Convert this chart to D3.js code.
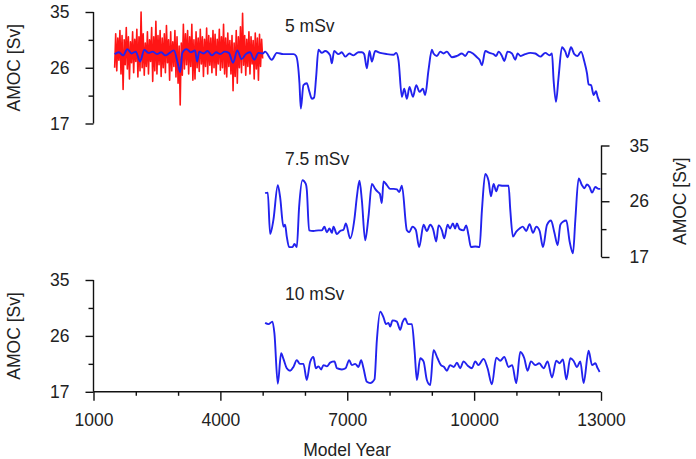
<!DOCTYPE html>
<html><head><meta charset="utf-8">
<script src="https://cdn.jsdelivr.net/npm/d3@7"></script>
<style>body{margin:0;background:#fff}svg{display:block}text{font-family:"Liberation Sans",Arial,sans-serif;fill:#222}</style>
</head><body><svg id="c" width="696" height="459"></svg>
<script>
const xTicks = [1000, 4000, 7000, 10000, 13000];
const xMinorTicks = [2000, 3000, 5000, 6000, 8000, 9000, 11000, 12000];
const yTicks = [17, 26, 35];
const yMinorTicks = [21.5, 30.5];
const panelLabels = ["5 mSv", "7.5 mSv", "10 mSv"];
const yLabel = "AMOC [Sv]";
const xLabel = "Model Year";

// 5 mSv: noisy annual-ish series (red), sampled start year + step
const redStart = 1500, redStep = 25;
const red5 = [26.0,31.5,25.5,30.8,27.2,32.0,25.0,31.2,22.5,30.5,
26.5,32.5,25.8,31.0,24.2,30.2,26.8,31.8,25.2,30.6,
27.0,32.2,24.5,31.0,25.5,35.0,26.0,31.5,24.8,30.0,
26.2,31.8,25.0,30.5,27.0,32.5,23.8,31.0,25.5,33.5,
25.0,31.2,26.5,32.0,24.6,30.8,26.0,31.5,25.2,32.8,
26.8,30.5,24.0,31.8,25.5,30.2,26.2,32.0,24.5,31.0,
23.5,29.5,20.0,30.0,24.8,33.0,25.8,31.5,26.5,32.0,
25.0,31.0,26.2,33.0,24.0,30.5,24.2,31.8,26.0,30.8,
25.4,32.2,26.6,31.0,24.6,30.6,26.2,32.4,25.0,31.2,
26.4,30.8,25.2,32.0,26.0,31.4,24.8,30.6,26.6,32.2,
25.6,31.0,26.0,33.0,25.0,30.8,24.5,31.6,26.2,30.4,
25.0,31.2,22.3,30.0,24.6,32.0,23.5,31.0,26.0,32.6,
25.2,34.8,26.4,31.2,24.8,30.6,26.2,31.8,25.0,31.0,
26.6,30.4,24.2,31.6,25.8,30.8,24.0,31.4,26.2,30.6,
27.5];

const blue5 = [[1500,28.2],[1600,28.5],[1700,28.0],[1800,29.0],[1900,28.3],[2000,28.6],[2100,27.0],[2200,28.9],[2300,28.4],[2400,28.6],[2500,28.2],[2600,28.5],[2700,28.0],[2800,28.4],[2900,28.8],[3000,26.5],[3050,25.3],[3100,28.4],[3200,29.0],[3300,28.5],[3400,28.8],[3450,27.0],[3500,28.6],[3600,28.3],[3700,28.7],[3800,28.0],[3900,28.5],[4000,28.2],[4100,28.6],[4200,28.4],[4300,26.8],[4400,28.8],[4500,27.4],[4600,28.2],[4700,28.5],[4800,27.3],[4900,28.4],[5000,28.3],
[5058,28.6],[5216,27.3],[5334,28.4],[5491,28.2],[5727,28.2],[5791,27.9],[5870,23.5],[5902,19.4],[5964,23.2],[6043,23.5],[6106,22.1],[6163,21.0],[6217,21.2],[6264,24.5],[6319,28.9],[6400,28.4],[6477,28.7],[6596,28.0],[6636,26.7],[6690,28.7],[6792,28.2],[6872,28.5],[6950,27.8],[7052,28.3],[7147,28.0],[7265,28.5],[7345,28.5],[7400,28.2],[7464,25.9],[7526,28.7],[7582,27.0],[7660,28.7],[7779,28.4],[7937,28.2],[8093,28.1],[8157,28.4],[8212,27.2],[8292,21.3],[8347,22.6],[8410,21.0],[8472,22.9],[8553,21.3],[8631,23.2],[8709,22.1],[8789,22.6],[8843,21.6],[8921,25.6],[9002,28.9],[9040,28.3],[9120,27.9],[9198,28.6],[9277,28.3],[9356,28.6],[9420,28.1],[9475,27.7],[9593,27.9],[9712,28.3],[9790,27.9],[9868,28.6],[9972,28.3],[10067,27.7],[10128,27.3],[10185,26.4],[10263,28.7],[10365,28.4],[10460,28.2],[10520,27.9],[10578,28.6],[10658,27.9],[10713,27.1],[10791,28.6],[10895,28.3],[10973,27.3],[11028,28.3],[11100,27.9],[11209,28.2],[11328,28.4],[11446,28.3],[11564,27.8],[11683,28.4],[11784,28.0],[11841,28.3],[11879,24.0],[11936,20.5],[11997,24.5],[12077,29.3],[12156,28.6],[12210,27.7],[12290,29.3],[12369,28.2],[12447,27.9],[12528,28.6],[12606,27.0],[12669,25.1],[12707,23.3],[12764,23.2],[12826,21.6],[12882,22.2],[12920,21.3],[12967,20.5]];

const blue75 = [[5058,27.3],[5121,27.4],[5176,20.7],[5254,23.0],[5358,28.6],[5412,26.7],[5491,21.9],[5530,22.2],[5570,20.3],[5625,18.6],[5704,18.6],[5751,19.1],[5807,18.6],[5862,25.1],[5940,29.4],[6020,28.8],[6043,27.9],[6098,21.3],[6200,21.2],[6319,21.3],[6400,21.3],[6461,21.9],[6517,21.0],[6580,21.6],[6636,20.9],[6674,21.9],[6754,20.7],[6832,21.2],[6911,21.4],[6967,22.4],[7069,20.0],[7171,23.2],[7227,26.7],[7289,29.3],[7345,26.2],[7424,19.7],[7502,23.5],[7582,28.8],[7660,28.0],[7723,27.5],[7770,27.2],[7818,25.7],[7857,29.2],[7937,28.6],[8015,28.0],[8100,28.0],[8173,27.9],[8230,27.5],[8292,28.5],[8410,21.3],[8465,21.0],[8543,21.9],[8620,21.4],[8701,18.6],[8804,22.2],[8882,21.2],[8962,22.2],[9030,21.5],[9104,19.5],[9159,22.1],[9238,21.3],[9293,20.0],[9372,22.2],[9430,21.6],[9498,22.4],[9550,21.6],[9593,22.4],[9656,21.5],[9750,21.3],[9813,22.1],[9868,20.5],[9925,18.6],[10027,18.7],[10128,18.6],[10185,24.6],[10263,30.4],[10341,29.3],[10398,26.8],[10460,28.8],[10523,27.6],[10578,28.6],[10680,28.5],[10815,28.5],[10855,24.6],[10918,20.3],[10996,21.1],[11075,21.6],[11150,21.9],[11233,21.2],[11312,22.3],[11392,20.9],[11470,21.9],[11549,21.2],[11628,18.6],[11723,22.2],[11818,22.9],[11896,21.0],[11975,18.9],[12038,22.2],[12101,22.7],[12180,22.9],[12258,19.5],[12338,17.6],[12392,22.9],[12471,29.7],[12550,28.6],[12606,28.1],[12669,28.7],[12730,28.3],[12788,27.4],[12866,28.3],[12944,28.0],[12984,28.0]];

const blue10 = [[5058,28.1],[5137,27.9],[5231,28.3],[5278,26.4],[5358,18.3],[5436,23.2],[5491,22.3],[5570,20.8],[5649,20.4],[5727,21.0],[5807,22.1],[5880,21.5],[5964,21.5],[6043,18.9],[6122,21.8],[6200,22.6],[6257,20.8],[6320,21.1],[6383,20.6],[6437,21.3],[6520,21.1],[6596,21.7],[6698,21.9],[6754,20.8],[6872,20.6],[6960,20.8],[7045,22.1],[7108,21.3],[7187,21.5],[7265,21.0],[7329,22.1],[7384,20.8],[7464,18.6],[7542,18.4],[7644,19.0],[7700,25.3],[7779,29.9],[7857,29.0],[7914,27.9],[7975,28.1],[8015,27.5],[8070,28.5],[8173,28.3],[8252,27.0],[8307,28.2],[8370,28.8],[8434,27.9],[8529,27.9],[8591,23.7],[8647,18.9],[8725,22.4],[8804,21.9],[8882,18.9],[8962,18.1],[9040,23.7],[9135,22.4],[9215,21.3],[9290,21.0],[9356,20.4],[9430,21.3],[9520,21.0],[9593,21.7],[9670,20.8],[9750,21.9],[9850,21.2],[9948,20.8],[10027,21.9],[10100,21.3],[10223,22.3],[10318,20.8],[10421,18.2],[10523,22.5],[10618,22.0],[10713,22.6],[10815,21.0],[10900,21.3],[10996,18.4],[11091,23.4],[11186,22.4],[11264,20.4],[11344,21.9],[11446,21.3],[11540,21.6],[11643,20.8],[11737,21.9],[11841,19.3],[11943,22.0],[12020,21.6],[12101,22.2],[12180,19.0],[12274,22.4],[12350,22.0],[12432,21.0],[12511,21.9],[12589,18.4],[12707,23.6],[12788,21.3],[12866,21.6],[12920,20.8],[12967,20.2]];

const svg = d3.select("#c");
const FS = 17.5;
const x = d3.scaleLinear().domain([1000, 13000]).range([93.5, 601]);
const panels = [
  {top: 12, bottom: 123.5, side: "left", label: panelLabels[0], lblY: 31.5},
  {top: 145.5, bottom: 257, side: "right", label: panelLabels[1], lblY: 165},
  {top: 280, bottom: 391.8, side: "left", label: panelLabels[2], lblY: 300}
];
panels.forEach(p => { p.y = d3.scaleLinear().domain([17, 35]).range([p.bottom, p.top]); });

const line = (ys) => d3.line().x(d => x(d[0])).y(d => ys(d[1]));

function styleAxis(g){
  g.selectAll("path,line").attr("stroke","#111").attr("stroke-width",1.4);
  g.selectAll("text").attr("font-size",FS).attr("font-family","Liberation Sans, Arial, sans-serif").attr("fill","#2a2a2a");
}

panels.forEach((p, i) => {
  const isRight = p.side === "right";
  const ax = (isRight ? d3.axisRight(p.y) : d3.axisLeft(p.y)).tickValues(yTicks).tickSize(8).tickPadding(isRight ? 20 : 16).tickFormat(d3.format("d"));
  const g = svg.append("g").attr("transform", `translate(${isRight ? 601.5 : 93.5},0)`).call(ax);
  g.select(".domain").remove();
  g.append("line").attr("y1", p.top).attr("y2", p.bottom);
  const minor = (isRight ? d3.axisRight(p.y) : d3.axisLeft(p.y)).tickValues(yMinorTicks).tickSize(5).tickFormat("");
  const gm = svg.append("g").attr("transform", `translate(${isRight ? 601.5 : 93.5},0)`).call(minor);
  gm.select(".domain").remove();
  styleAxis(g); styleAxis(gm);
  g.selectAll(".tick text").attr("text-anchor", isRight ? "start" : "end");
  svg.append("text").attr("transform", `translate(${isRight ? 686 : 20},${(p.top + p.bottom) / 2}) rotate(-90)`)
    .attr("text-anchor","middle").attr("font-size",FS).attr("fill","#2a2a2a").text(yLabel);
  svg.append("text").attr("x", 285).attr("y", p.lblY).attr("font-size",FS).attr("fill","#2a2a2a").text(p.label);
});

// x axis
const xa = d3.axisBottom(x).tickValues(xTicks).tickSize(9).tickPadding(13).tickFormat(d3.format("d"));
const gx = svg.append("g").attr("transform","translate(0,391.8)").call(xa);
gx.select(".domain").remove();
gx.append("line").attr("x1", 93.5).attr("x2", 601);
const gxm = svg.append("g").attr("transform","translate(0,391.8)").call(d3.axisBottom(x).tickValues(xMinorTicks).tickSize(4).tickFormat(""));
gxm.select(".domain").remove();
styleAxis(gx); styleAxis(gxm);
svg.append("text").attr("x", 347).attr("y", 456).attr("text-anchor","middle").attr("font-size",FS).attr("fill","#2a2a2a").text(xLabel);

// lines
const redData = red5.map((v, i) => [redStart + i * redStep, v]);
svg.append("path").datum(redData).attr("d", line(panels[0].y)).attr("fill","none").attr("stroke","#ff1515").attr("stroke-width",1.6).attr("stroke-linejoin","round");
const blueColor = "#2222ee";
[[blue5,0],[blue75,1],[blue10,2]].forEach(([data, i]) => {
  svg.append("path").datum(data).attr("d", line(panels[i].y).curve(d3.curveMonotoneX)).attr("fill","none")
    .attr("stroke", blueColor).attr("stroke-width",1.9).attr("stroke-linejoin","round");
});
</script></body></html>
